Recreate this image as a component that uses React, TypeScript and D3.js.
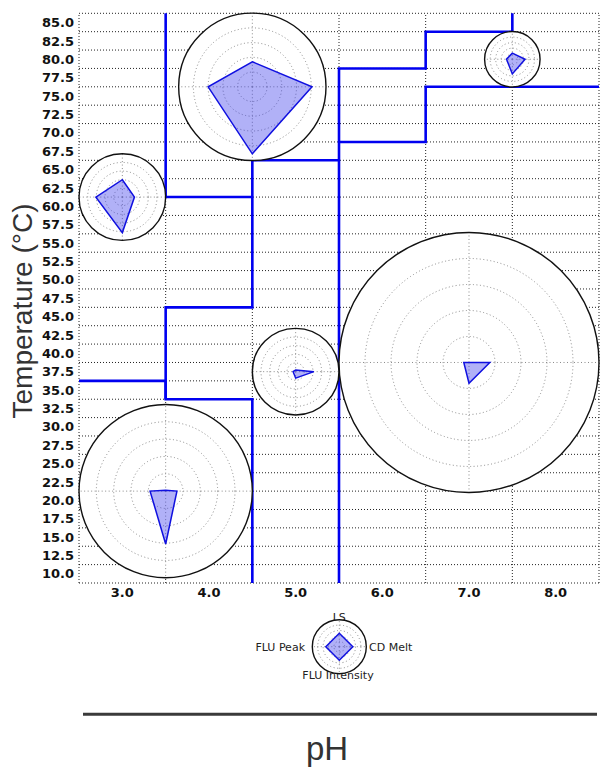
import React from "react";
import * as d3 from "d3";

// ---- data ----
const xTicks = [3.0, 4.0, 5.0, 6.0, 7.0, 8.0];
const yTicks = [10.0, 12.5, 15.0, 17.5, 20.0, 22.5, 25.0, 27.5, 30.0, 32.5, 35.0, 37.5, 40.0, 42.5, 45.0, 47.5, 50.0, 52.5, 55.0, 57.5, 60.0, 62.5, 65.0, 67.5, 70.0, 72.5, 75.0, 77.5, 80.0, 82.5, 85.0];
const xGrid = [2.5, 3.5, 4.5, 5.5, 6.5, 7.5, 8.5];
const yGrid = [8.75, 11.25, 13.75, 16.25, 18.75, 21.25, 23.75, 26.25, 28.75, 31.25, 33.75, 36.25, 38.75, 41.25, 43.75, 46.25, 48.75, 51.25, 53.75, 56.25, 58.75, 61.25, 63.75, 66.25, 68.75, 71.25, 73.75, 76.25, 78.75, 81.25, 83.75, 86.25];

// phase boundaries as (pH, T) step lines
const boundaryA = [[2.5, 36.25], [3.5, 36.25], [3.5, 33.75], [4.5, 33.75], [4.5, 8.75]];
const boundaryB = [[3.5, 86.25], [3.5, 61.25], [4.5, 61.25]];
const boundaryC = [[5.5, 66.25], [4.5, 66.25], [4.5, 46.25], [3.5, 46.25], [3.5, 33.75]];
const boundaryD = [[5.5, 8.75], [5.5, 78.75], [6.5, 78.75], [6.5, 83.75], [7.5, 83.75], [7.5, 86.25]];
const boundaryE = [[5.5, 68.75], [6.5, 68.75], [6.5, 76.25], [8.5, 76.25]];
const boundaries = [boundaryA, boundaryB, boundaryC, boundaryD, boundaryE];

// radar glyphs: centre (pH, T), size (radius in pH units), values
const radarAxes = ["LS", "CD Melt", "FLU Intensity", "FLU Peak"];
const radarPH = [3.0, 4.5, 3.5, 5.0, 7.0, 7.5];
const radarT = [61.25, 76.25, 21.25, 37.5, 38.75, 80.0];
const radarSize = [0.5, 0.85, 1.0, 0.5, 1.5, 0.32];
const radarLS = [0.40, 0.34, 0.01, 0.04, 0.0, 0.22];
const radarCD = [0.28, 0.81, 0.13, 0.42, 0.16, 0.46];
const radarFLUI = [0.82, 0.91, 0.61, 0.15, 0.16, 0.53];
const radarFLUP = [0.61, 0.60, 0.18, 0.06, 0.04, 0.21];
const legendValues = [0.5, 0.5, 0.5, 0.5];
const ringLevels = [0.2, 0.4, 0.6, 0.8];

const W = 609;
const H = 768;

const x = d3.scaleLinear().domain([2.5, 8.5]).range([79, 599]);
const y = d3.scaleLinear().domain([8.75, 86.25]).range([583, 13.3]);

const angles = [-Math.PI / 2, 0, Math.PI / 2, Math.PI];

function Radar({ cx, cy, r, values }: { cx: number; cy: number; r: number; values: number[] }) {
  const rs = d3.scaleLinear().domain([0, 1]).range([0, r]);
  const pts = values.map((v, i) => [cx + rs(v) * Math.cos(angles[i]), cy + rs(v) * Math.sin(angles[i])] as [number, number]);
  const line = d3.line().curve(d3.curveLinearClosed);
  return (
    <g>
      <circle cx={cx} cy={cy} r={r} fill="#fff" stroke="none" />
      {ringLevels.map((l) => (
        <circle key={l} cx={cx} cy={cy} r={rs(l)} fill="none" stroke="#8a8a8a" strokeWidth={1} strokeDasharray="1 2.5" />
      ))}
      {angles.map((a, i) => (
        <line key={i} x1={cx} y1={cy} x2={cx + r * Math.cos(a)} y2={cy + r * Math.sin(a)} stroke="#8a8a8a" strokeWidth={1} strokeDasharray="1 2.5" />
      ))}
      <path d={line(pts) || ""} fill="rgba(60,60,235,0.4)" stroke="#1010e0" strokeWidth={1.5} strokeLinejoin="miter" />
      <circle cx={cx} cy={cy} r={r} fill="none" stroke="#111" strokeWidth={1.4} />
    </g>
  );
}

export default function App() {
  const stepLine = d3.line<number[]>().x((d) => x(d[0])).y((d) => y(d[1]));
  const legendCx = 339.3;
  const legendCy = 646.7;
  const legendR = 27;
  return (
    <svg width={W} height={H} style={{ position: "absolute", left: 0, top: 0, background: "#fff" }}>
      {/* grid */}
      {yGrid.map((t) => (
        <line key={"h" + t} x1={x(2.5)} x2={x(8.5)} y1={y(t)} y2={y(t)} stroke="#222" strokeWidth={1} strokeDasharray="1 2" />
      ))}
      {xGrid.map((p) => (
        <line key={"v" + p} x1={x(p)} x2={x(p)} y1={y(8.75)} y2={y(86.25)} stroke="#222" strokeWidth={1} strokeDasharray="1 2" />
      ))}
      {/* boundaries */}
      {boundaries.map((b, i) => (
        <path key={i} d={stepLine(b) || ""} fill="none" stroke="#0000f0" strokeWidth={2.6} />
      ))}
      {/* tick labels */}
      {yTicks.map((t) => (
        <text key={"yt" + t} x={74} y={y(t)} dy="0.36em" textAnchor="end" fontFamily="DejaVu Sans" fontWeight="bold" fontSize={13} fill="#111">
          {t.toFixed(1)}
        </text>
      ))}
      {xTicks.map((p) => (
        <text key={"xt" + p} x={x(p)} y={597} textAnchor="middle" fontFamily="DejaVu Sans" fontWeight="bold" fontSize={13} fill="#111">
          {p.toFixed(1)}
        </text>
      ))}
      {/* radars */}
      {radarPH.map((p, i) => (
        <Radar
          key={i}
          cx={x(p)}
          cy={y(radarT[i])}
          r={x(p + radarSize[i]) - x(p)}
          values={[radarLS[i], radarCD[i], radarFLUI[i], radarFLUP[i]]}
        />
      ))}
      {/* legend */}
      <text x={legendCx} y={621} textAnchor="middle" fontFamily="DejaVu Sans" fontSize={11} fill="#222">{radarAxes[0]}</text>
      <text x={369} y={651} textAnchor="start" fontFamily="DejaVu Sans" fontSize={11} fill="#222">{radarAxes[1]}</text>
      <text x={338} y={679} textAnchor="middle" fontFamily="DejaVu Sans" fontSize={11} fill="#222">{radarAxes[2]}</text>
      <text x={305} y={651} textAnchor="end" fontFamily="DejaVu Sans" fontSize={11} fill="#222">{radarAxes[3]}</text>
      <Radar cx={legendCx} cy={legendCy} r={legendR} values={legendValues} />
      {/* axis titles */}
      <line x1={83} x2={597} y1={714.3} y2={714.3} stroke="#3a3a3a" strokeWidth={3} />
      <text x={327} y={760} textAnchor="middle" fontFamily="Liberation Sans" fontSize={33} fill="#333">pH</text>
      <text transform="translate(32,311) rotate(-90)" textAnchor="middle" fontFamily="Liberation Sans" fontSize={28} fill="#333">Temperature (°C)</text>
    </svg>
  );
}
